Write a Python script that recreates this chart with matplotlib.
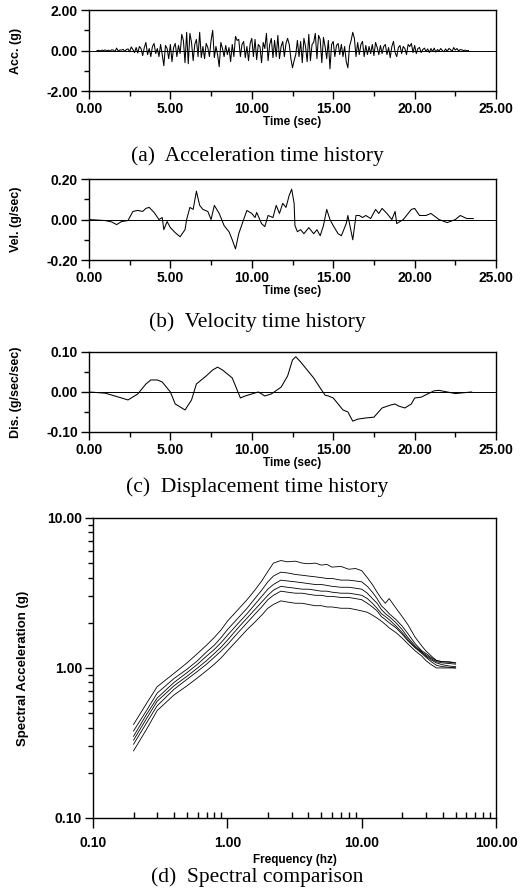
import numpy as np
import matplotlib
matplotlib.use("Agg")
import matplotlib.pyplot as plt
from matplotlib.ticker import FixedLocator, FormatStrFormatter, MultipleLocator, NullFormatter

# acceleration (g), sampled every 0.1 s from 0.5 s
acc_t0 = 0.5
acc_dt = 0.1
acc = [0.0, 0.01, -0.02, 0.02, 0.0,
       0.03, -0.02, 0.02, -0.03, 0.04, 0.02, -0.05, 0.12, -0.03, 0.03,
       0.02, 0.06, -0.04, 0.05, 0.08, -0.06, 0.18, 0.05, -0.1, 0.15,
       -0.12, 0.2, 0.1, -0.25, 0.15, 0.4, -0.2, 0.1, -0.3, 0.2,
       0.35, -0.15, 0.1, -0.3, 0.3, -0.2, -0.75, 0.25, 0.1, -0.4,
       0.3, -0.55, 0.15, 0.35, -0.3, 0.25, -0.15, 0.8, 0.5, -0.6,
       0.9, -0.65, 0.85, 0.4, -0.5, 0.3, 0.55, -0.3, 0.9, -0.35,
       0.2, -0.4, 0.35, 0.15, -0.3, 0.5, 1.0, -0.35, 0.2, -0.2,
       -0.8, 0.4, 0.1, -0.3, 0.25, -0.2, 0.15, -0.55, 0.3, -0.3,
       0.7, 0.5, 0.55, -0.3, 0.3, 0.45, -0.35, 0.2, -0.5, 0.35,
       0.6, -0.3, 0.55, -0.45, 0.3, 0.2, -0.6, 0.4, 0.1, 0.85,
       -0.5, 0.3, 0.6, -0.35, 0.5, -0.3, 0.75, -0.4, 0.2, 0.45,
       -0.3, 0.35, 0.6, 0.3, -0.4, -0.85, -0.5, -0.2, 0.5, -0.3,
       0.45, -0.6, 0.6, 0.2, -0.55, 0.8, -0.5, 0.3, 0.4, 0.85,
       -0.4, 0.75, 0.55, -0.6, 0.65, 0.2, -0.4, 0.5, -0.9, 0.3,
       0.45, -0.3, 0.25, 0.35, -0.2, 0.3, -0.3, 0.2, -0.55, -0.85,
       0.2, 0.5, 0.9, 0.6, -0.3, 0.4, -0.2, 0.3, 0.45, -0.3,
       0.25, -0.2, 0.2, -0.15, 0.3, -0.25, 0.4, 0.15, -0.2, 0.25,
       -0.15, 0.2, 0.3, -0.2, 0.15, -0.35, 0.2, 0.45, -0.1, -0.3,
       0.15, 0.25, -0.15, 0.2, 0.1, -0.2, 0.3, 0.2, 0.35, -0.1,
       0.25, -0.15, 0.1, 0.15, -0.1, 0.05, 0.12, -0.05, 0.08, -0.1,
       0.1, -0.05, 0.12, -0.08, 0.05, -0.03, 0.1, 0.0, -0.06, 0.08,
       -0.04, 0.1, 0.05, -0.05, 0.15, 0.02, 0.1, -0.02, 0.05, 0.03,
       0.0, 0.02, -0.01, 0.0]

# velocity (g/sec)
vel_t = [0.0, 1.0, 1.4, 1.7, 2.0, 2.4, 2.7, 3.0, 3.3, 3.5, 3.7, 4.0, 4.3, 4.5, 4.6, 4.8,
         5.0, 5.3, 5.6, 5.9, 6.0, 6.2, 6.4, 6.6, 6.8, 7.0, 7.3, 7.5, 7.7, 8.0, 8.3,
         8.6, 8.8, 9.0, 9.2, 9.5, 9.7, 10.0, 10.2, 10.3, 10.6, 10.8, 11.0, 11.3, 11.5,
         11.7, 11.9, 12.1, 12.3, 12.45, 12.6, 12.65, 12.8, 13.0, 13.2, 13.5, 13.8, 14.0,
         14.2, 14.4, 14.6, 14.8, 15.0, 15.3, 15.5, 15.8, 15.9, 16.1, 16.2, 16.4, 16.6,
         16.8, 17.0, 17.3, 17.6, 17.8, 18.0, 18.3, 18.6, 18.8, 18.9, 19.3, 19.8, 20.0,
         20.3, 20.7, 21.0, 21.5, 22.0, 22.5, 22.8, 23.2, 23.6]
vel = [0.0, -0.005, -0.012, -0.025, -0.01, -0.005, 0.04, 0.045, 0.04, 0.055, 0.06, 0.035,
       0.0, 0.01, -0.05, -0.01, -0.04, -0.065, -0.085, -0.05, 0.0, 0.06, 0.05, 0.14, 0.07,
       0.05, 0.04, 0.0, 0.07, 0.03, -0.03, -0.06, -0.1, -0.145, -0.07, 0.0, 0.045, 0.03,
       0.01, 0.035, -0.02, -0.035, 0.02, 0.01, 0.07, 0.03, 0.08, 0.06, 0.12, 0.15, 0.08,
       -0.03, -0.06, -0.05, -0.07, -0.04, -0.07, -0.05, -0.08, -0.03, 0.05, 0.0, -0.03,
       -0.07, -0.08, -0.02, 0.02, -0.06, -0.1, 0.02, 0.02, 0.01, 0.02, 0.005, 0.05, 0.03,
       0.055, 0.03, 0.0, 0.04, -0.02, 0.0, 0.05, 0.055, 0.02, 0.02, 0.03, 0.0, -0.015,
       0.0, 0.02, 0.005, 0.005]

# displacement (g/sec/sec)
dis_t = [0.0, 1.0, 2.0, 2.4, 3.0, 3.5, 3.8, 4.2, 4.5, 5.0, 5.3, 5.9, 6.3, 6.6, 7.2, 7.6,
         7.9, 8.2, 8.8, 9.3, 9.6, 10.0, 10.4, 10.8, 11.2, 11.8, 12.2, 12.5, 12.7, 13.0,
         13.4, 13.8, 14.2, 14.5, 14.7, 15.0, 15.6, 15.9, 16.2, 16.5, 17.0, 17.5, 18.0,
         18.5, 18.8, 19.0, 19.4, 19.8, 20.0, 20.4, 20.8, 21.2, 21.5, 22.0, 22.5, 23.0, 23.5]
dis = [0.0, -0.003, -0.015, -0.02, -0.005, 0.02, 0.03, 0.03, 0.025, 0.0, -0.03, -0.045,
       -0.02, 0.02, 0.04, 0.055, 0.062, 0.055, 0.035, -0.015, -0.01, -0.005, 0.0, -0.01,
       -0.005, 0.012, 0.04, 0.08, 0.088, 0.075, 0.055, 0.035, 0.01, -0.008, -0.01, -0.015,
       -0.045, -0.05, -0.073, -0.068, -0.065, -0.063, -0.04, -0.033, -0.03, -0.035, -0.04,
       -0.03, -0.015, -0.013, -0.005, 0.003, 0.004, 0.0, -0.004, -0.002, 0.0]

# response spectra (g)
freq = [0.2, 0.25, 0.3, 0.4, 0.5, 0.6, 0.7, 0.8, 0.9, 1.0, 1.2, 1.4, 1.6, 1.8, 2.0, 2.2,
        2.5, 2.8, 3.2, 3.6, 4.0, 4.5, 5.0, 5.5, 6.0, 7.0, 8.0, 9.0, 10.0, 11.0, 12.0,
        13.0, 14.0, 15.0, 16.0, 18.0, 20.0, 22.0, 25.0, 28.0, 30.0, 33.0, 36.0, 40.0,
        45.0, 50.0]
sa1 = [0.42, 0.58, 0.75, 0.92, 1.08, 1.25, 1.42, 1.6, 1.8, 2.05, 2.45, 2.85, 3.3, 3.8,
       4.4, 5.0, 5.2, 5.1, 5.15, 5.0, 4.95, 5.0, 4.85, 4.9, 4.7, 4.75, 4.55, 4.6, 4.45,
       4.0, 3.6, 3.2, 2.9, 2.7, 2.9, 2.5, 2.2, 1.95, 1.6, 1.4, 1.3, 1.2, 1.12, 1.1, 1.1, 1.08]
sa2 = [0.38, 0.52, 0.68, 0.85, 0.98, 1.12, 1.28, 1.42, 1.6, 1.8, 2.15, 2.5, 2.9, 3.3,
       3.75, 4.1, 4.35, 4.3, 4.2, 4.15, 4.1, 4.05, 4.0, 3.95, 3.95, 3.85, 3.85, 3.8, 3.75,
       3.5, 3.2, 2.9, 2.6, 2.45, 2.3, 2.1, 1.9, 1.7, 1.45, 1.3, 1.25, 1.17, 1.12, 1.1, 1.09, 1.08]
sa3 = [0.35, 0.49, 0.63, 0.8, 0.93, 1.06, 1.2, 1.33, 1.48, 1.65, 1.98, 2.3, 2.65, 3.0,
       3.35, 3.6, 3.85, 3.8, 3.75, 3.7, 3.65, 3.6, 3.6, 3.55, 3.5, 3.45, 3.45, 3.4, 3.35,
       3.15, 2.9, 2.7, 2.45, 2.3, 2.2, 2.0, 1.8, 1.6, 1.4, 1.28, 1.22, 1.15, 1.1, 1.08, 1.07, 1.06]
sa4 = [0.33, 0.46, 0.6, 0.76, 0.88, 1.0, 1.12, 1.25, 1.38, 1.53, 1.85, 2.15, 2.45, 2.75,
       3.05, 3.3, 3.5, 3.45, 3.4, 3.35, 3.35, 3.3, 3.25, 3.25, 3.2, 3.15, 3.15, 3.1, 3.05,
       2.9, 2.7, 2.5, 2.3, 2.2, 2.1, 1.9, 1.72, 1.55, 1.38, 1.27, 1.2, 1.13, 1.08, 1.05, 1.03, 1.02]
sa5 = [0.31, 0.43, 0.56, 0.72, 0.84, 0.95, 1.06, 1.18, 1.3, 1.43, 1.72, 2.0, 2.28, 2.55,
       2.85, 3.05, 3.25, 3.2, 3.15, 3.15, 3.1, 3.05, 3.05, 3.0, 3.0, 2.95, 2.95, 2.9, 2.85,
       2.7, 2.55, 2.4, 2.2, 2.1, 2.0, 1.85, 1.68, 1.52, 1.36, 1.25, 1.18, 1.1, 1.04, 1.02, 1.01, 1.0]
sa6 = [0.28, 0.39, 0.52, 0.66, 0.76, 0.86, 0.96, 1.06, 1.17, 1.3, 1.55, 1.8, 2.02, 2.25,
       2.5, 2.65, 2.8, 2.75, 2.7, 2.7, 2.65, 2.6, 2.6, 2.55, 2.55, 2.5, 2.5, 2.45, 2.4,
       2.35, 2.25, 2.15, 2.05, 1.95, 1.85, 1.72, 1.58, 1.45, 1.3, 1.2, 1.12, 1.05, 1.0, 1.0, 1.0, 1.0]

sans = "Liberation Sans"
serif = "Liberation Serif"
plt.rcParams["font.family"] = sans
plt.rcParams["font.weight"] = "bold"

fig = plt.figure(figsize=(5.2, 8.89), dpi=100)


def style_axes(ax):
    for s in ax.spines.values():
        s.set_linewidth(1.0)
    ax.tick_params(which="major", direction="out", length=6, width=1.0,
                   labelsize=10, pad=2)
    ax.tick_params(which="minor", direction="out", length=3.5, width=1.0)
    for lbl in ax.get_xticklabels() + ax.get_yticklabels():
        lbl.set_fontweight("bold")


def time_panel(rect, t, y, ymax, ylabel, caption, cap_y):
    ax = fig.add_axes(rect)
    ax.plot(t, y, color="black", lw=0.75)
    ax.axhline(0, color="black", lw=0.7)
    ax.set_xlim(0, 25)
    ax.set_ylim(-ymax, ymax)
    ax.xaxis.set_major_locator(MultipleLocator(5))
    ax.xaxis.set_minor_locator(MultipleLocator(2.5))
    ax.yaxis.set_major_locator(FixedLocator([-ymax, 0, ymax]))
    ax.yaxis.set_minor_locator(FixedLocator([-ymax / 2, ymax / 2]))
    ax.xaxis.set_major_formatter(FormatStrFormatter("%.2f"))
    ax.yaxis.set_major_formatter(FormatStrFormatter("%.2f"))
    style_axes(ax)
    ax.set_xlabel("Time (sec)", fontsize=8.5, fontweight="bold", labelpad=0)
    ax.set_ylabel(ylabel, fontsize=9, fontweight="bold")
    ax.yaxis.set_label_coords(-0.165, 0.5)
    fig.text(0.495, cap_y, caption, family=serif, fontsize=15.5,
             weight="normal", ha="center", va="center")
    return ax


acc_time = acc_t0 + acc_dt * np.arange(len(acc))
time_panel([0.171, 0.8976, 0.783, 0.0911], acc_time, acc, 2.0, "Acc. (g)",
           "(a)  Acceleration time history", 0.8245)
time_panel([0.171, 0.7075, 0.783, 0.0911], vel_t, vel, 0.2, "Vel. (g/sec)",
           "(b)  Velocity time history", 0.638)
time_panel([0.171, 0.5141, 0.783, 0.090], dis_t, dis, 0.1, "Dis. (g/sec/sec)",
           "(c)  Displacement time history", 0.452)

ax = fig.add_axes([0.179, 0.0799, 0.775, 0.3375])
for sa in [sa1, sa2, sa3, sa4, sa5, sa6]:
    ax.plot(freq, sa, color="black", lw=0.6)
ax.set_xscale("log")
ax.set_yscale("log")
ax.set_xlim(0.1, 100)
ax.set_ylim(0.1, 10)
ax.xaxis.set_major_locator(FixedLocator([0.1, 1, 10, 100]))
ax.yaxis.set_major_locator(FixedLocator([0.1, 1, 10]))
ax.xaxis.set_major_formatter(FormatStrFormatter("%.2f"))
ax.yaxis.set_major_formatter(FormatStrFormatter("%.2f"))
ax.xaxis.set_minor_formatter(NullFormatter())
ax.yaxis.set_minor_formatter(NullFormatter())
style_axes(ax)
ax.tick_params(axis="x", which="minor", direction="in", length=4)
ax.tick_params(axis="x", which="major", length=7, pad=6)
ax.set_xlabel("Frequency (hz)", fontsize=8.5, fontweight="bold", labelpad=3)
ax.set_ylabel("Spectral Acceleration (g)", fontsize=9.5, fontweight="bold")
ax.yaxis.set_label_coords(-0.16, 0.5)
fig.text(0.495, 0.0135, "(d)  Spectral comparison", family=serif, fontsize=15.5,
         weight="normal", ha="center", va="center")

fig.savefig("out.png", dpi=100)
